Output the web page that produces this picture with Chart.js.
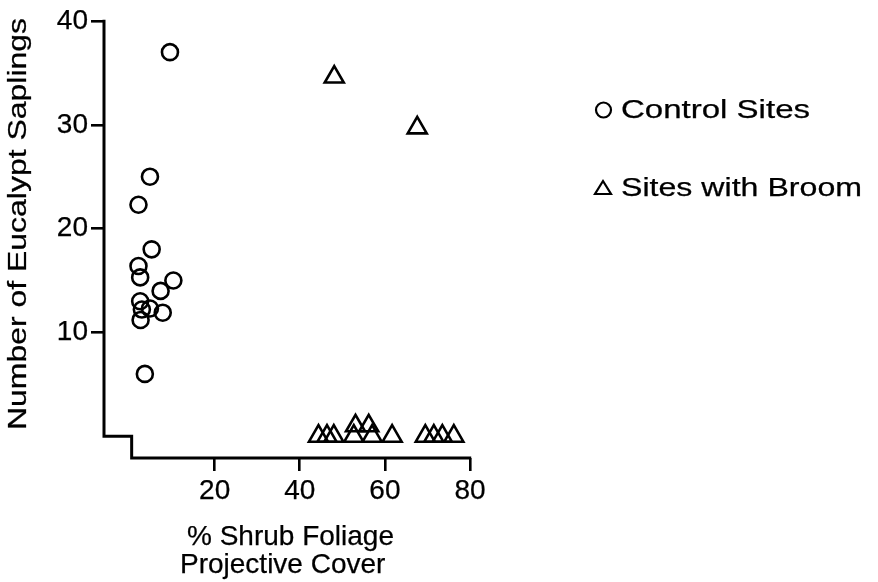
<!DOCTYPE html>
<html>
<head>
<meta charset="utf-8">
<script src="https://cdn.jsdelivr.net/npm/chart.js@4/dist/chart.umd.min.js"></script>
<style>
  html, body { margin: 0; padding: 0; background: #fff; }
  #wrap { width: 878px; height: 582px; position: relative; }
</style>
</head>
<body>
<div id="wrap"><canvas id="c" width="878" height="582"></canvas></div>
<script>
// Shrub foliage projective cover (%) and eucalypt sapling counts per site
const controlCover    = [9.5, 4.8, 2.1, 5.2, 2.1, 2.5, 10.3, 7.3, 2.5, 2.9, 4.8, 7.8, 2.6, 3.6];
const controlSaplings = [37, 25, 22.3, 18, 16.4, 15.3, 15, 14, 13, 12.2, 12.3, 11.9, 11.2, 6];
const broomCover      = [48.1, 67.6, 53.1, 56.2, 44.4, 46.4, 48.0, 52.7, 57.0, 61.7, 69.5, 71.5, 73.5, 76.2];
const broomSaplings   = [34.6, 29.7, 1, 1, 0, 0, 0, 0, 0, 0, 0, 0, 0, 0];

const xTickValues = [20, 40, 60, 80];
const yTickValues = [10, 20, 30, 40];
const seriesNames = ['Control Sites', 'Sites with Broom'];
const xTitleLines = ['% Shrub Foliage', 'Projective Cover'];
const yTitleText  = 'Number of Eucalypt Saplings';

const FONT = '"Liberation Sans", Arial, Helvetica, sans-serif';
const INK = '#000';

const toPoints = (xs, ys) => xs.map((x, i) => ({ x: x, y: ys[i] }));

// draws text stretched horizontally to a given width (0 keeps natural width)
function fitText(ctx, text, x, y, width, size) {
  ctx.save();
  ctx.font = size + 'px ' + FONT;
  const w = ctx.measureText(text).width;
  const sx = width ? width / w : 1;
  ctx.translate(x, y);
  ctx.scale(sx, 1);
  ctx.lineWidth = 0.25;
  ctx.strokeStyle = INK;
  ctx.fillText(text, 0, 0);
  ctx.strokeText(text, 0, 0);
  ctx.restore();
}

const framePlugin = {
  id: 'frame',
  afterDraw(chart) {
    const ctx = chart.ctx;
    const xs = chart.scales.x, ys = chart.scales.y;
    const area = chart.chartArea;

    // stepped axis line: vertical axis down to zero, then the cover axis
    ctx.save();
    ctx.strokeStyle = INK;
    ctx.lineWidth = 3;
    ctx.lineJoin = 'miter';
    ctx.beginPath();
    ctx.moveTo(area.left, ys.getPixelForValue(40) - 1.2);
    ctx.lineTo(area.left, ys.getPixelForValue(0));
    ctx.lineTo(xs.getPixelForValue(0.5), ys.getPixelForValue(0));
    ctx.lineTo(xs.getPixelForValue(0.5), area.bottom);
    ctx.lineTo(xs.getPixelForValue(80) + 1.2, area.bottom);
    ctx.stroke();
    ctx.restore();

    // axis titles
    ctx.save();
    ctx.fillStyle = INK;
    ctx.textBaseline = 'alphabetic';
    ctx.textAlign = 'left';
    fitText(ctx, xTitleLines[0], 187, 545, 0, 28);
    fitText(ctx, xTitleLines[1], 180, 573, 0, 28);

    ctx.translate(26, 430);
    ctx.rotate(-Math.PI / 2);
    fitText(ctx, yTitleText, 0, 0, 412, 25);
    ctx.restore();

    // legend
    ctx.save();
    ctx.strokeStyle = INK;
    ctx.fillStyle = INK;
    ctx.lineWidth = 2.2;
    ctx.beginPath();
    ctx.ellipse(603.5, 110, 7.5, 7.5, 0, 0, Math.PI * 2);
    ctx.stroke();
    ctx.beginPath();
    ctx.moveTo(603, 181);
    ctx.lineTo(611, 194);
    ctx.lineTo(595, 194);
    ctx.closePath();
    ctx.stroke();
    ctx.textBaseline = 'middle';
    ctx.textAlign = 'left';
    fitText(ctx, seriesNames[0], 621, 111, 189, 26);
    fitText(ctx, seriesNames[1], 621, 189, 241, 26);
    ctx.restore();
  }
};

const tickFont = { family: FONT, size: 28 };

new Chart(document.getElementById('c'), {
  type: 'scatter',
  data: {
    datasets: [
      {
        label: seriesNames[0],
        data: toPoints(controlCover, controlSaplings),
        pointStyle: 'circle',
        pointRadius: 8,
        pointBorderWidth: 2.6,
        borderColor: INK,
        backgroundColor: 'rgba(0,0,0,0)'
      },
      {
        label: seriesNames[1],
        data: toPoints(broomCover, broomSaplings),
        pointStyle: 'triangle',
        pointRadius: 11,
        pointBorderWidth: 2.6,
        borderColor: INK,
        backgroundColor: 'rgba(0,0,0,0)'
      }
    ]
  },
  options: {
    responsive: false,
    animation: false,
    devicePixelRatio: 1,
    layout: { padding: { left: 0, top: 21, right: 408, bottom: 0 } },
    plugins: { legend: { display: false }, tooltip: { enabled: false } },
    scales: {
      x: {
        type: 'linear',
        min: -6,
        max: 80,
        afterBuildTicks: s => { s.ticks = xTickValues.map(v => ({ value: v })); },
        afterFit: s => { s.height = 124; },
        border: { display: false },
        grid: { drawOnChartArea: false, drawTicks: true, tickLength: 13, lineWidth: 2.6, tickWidth: 2.6, tickColor: INK },
        ticks: { color: INK, font: tickFont, padding: 3, maxRotation: 0, autoSkip: false,
                 textStrokeColor: INK, textStrokeWidth: 0.25 }
      },
      y: {
        type: 'linear',
        min: -2.1,
        max: 40,
        afterBuildTicks: s => { s.ticks = yTickValues.map(v => ({ value: v })); },
        afterFit: s => { s.width = 104; },
        border: { display: false },
        grid: { drawOnChartArea: false, drawTicks: true, tickLength: 13, lineWidth: 2.6, tickWidth: 2.6, tickColor: INK },
        ticks: { color: INK, font: tickFont, padding: 3, autoSkip: false,
                 textStrokeColor: INK, textStrokeWidth: 0.25 }
      }
    }
  },
  plugins: [framePlugin]
});
</script>
</body>
</html>
